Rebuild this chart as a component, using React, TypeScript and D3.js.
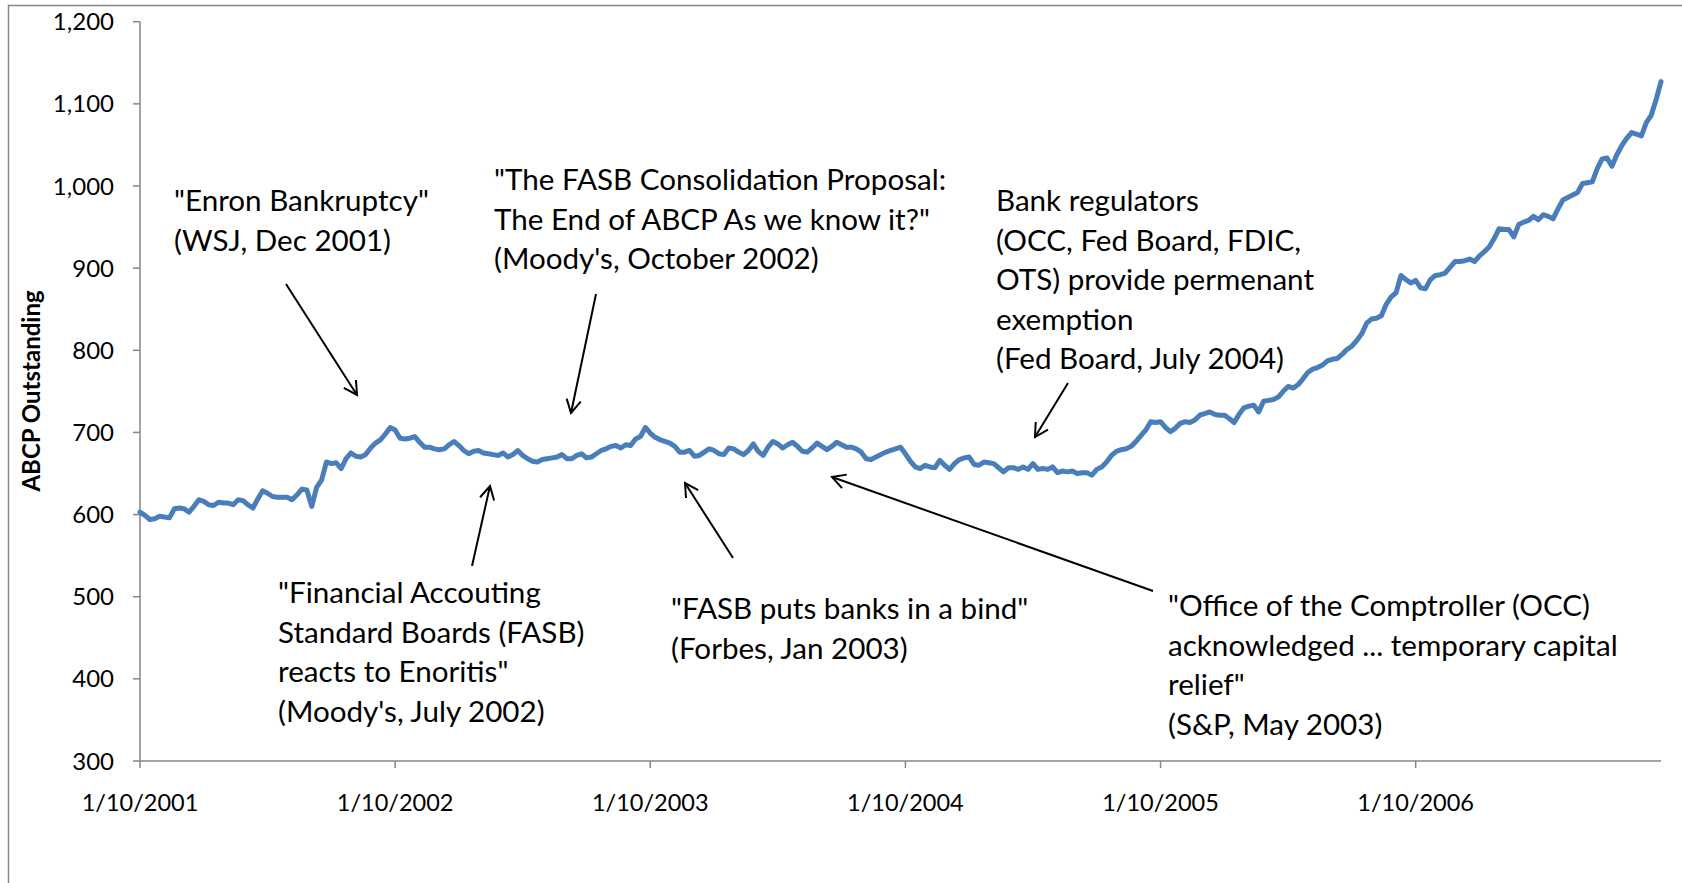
import React, { useEffect } from 'react';
import * as d3 from 'd3';

// weekly ABCP outstanding ($bn), starting 1/10/2001
const abcp = [
  603, 599, 594, 595, 598, 597, 596, 607, 608, 607,
  603, 610, 618, 616, 612, 611, 615, 614, 614, 612,
  618, 617, 612, 608, 619, 629, 626, 622, 621, 621,
  621, 618, 624, 631, 630, 610, 633, 642, 664, 662,
  663, 656, 668, 675, 671, 670, 673, 681, 687, 691,
  698, 706, 703, 693, 692, 693, 695, 688, 682, 682,
  680, 679, 680, 685, 689, 684, 678, 674, 677, 678,
  675, 674, 673, 672, 675, 670, 673, 678, 672, 668,
  665, 664, 667, 668, 669, 670, 673, 668, 668, 672,
  674, 669, 670, 674, 678, 680, 683, 684, 681, 685,
  684, 692, 695, 706, 699, 694, 691, 689, 687, 683,
  676, 676, 678, 671, 672, 676, 680, 678, 674, 673,
  681, 680, 676, 673, 678, 686, 677, 672, 682, 689,
  686, 681, 685, 688, 683, 677, 676, 681, 687, 683,
  679, 683, 688, 685, 682, 682, 680, 676, 668, 667,
  670, 673, 676, 678, 680, 682, 674, 665, 658, 656,
  660, 658, 657, 666, 660, 655, 662, 667, 669, 670,
  661, 660, 664, 663, 662, 657, 652, 657, 657, 655,
  658, 655, 662, 655, 656, 655, 658, 651, 653, 652,
  653, 650, 651, 651, 648, 655, 658, 664, 672, 677,
  679, 680, 683, 689, 696, 703, 713, 712, 713, 706,
  701, 705, 711, 713, 712, 715, 721, 723, 725, 722,
  721, 721, 717, 712, 722, 730, 732, 733, 725, 738,
  739, 740, 743, 750, 756, 754, 758, 765, 773, 777,
  779, 782, 787, 789, 790, 795, 801, 805, 812, 820,
  833, 838, 839, 842, 856, 865, 870, 891, 886, 882,
  885, 876, 875, 886, 891, 892, 894, 901, 908, 908,
  909, 911, 908, 915, 920, 926, 936, 948, 947, 947,
  938, 953, 956, 958, 963, 959, 965, 963, 960, 972,
  983, 986, 989, 992, 1003, 1004, 1005, 1021, 1033, 1034,
  1024, 1038, 1049, 1058, 1065, 1063, 1061, 1077, 1086, 1105, 1127,
];

const xTickLabels = ['1/10/2001', '1/10/2002', '1/10/2003', '1/10/2004', '1/10/2005', '1/10/2006'];
const weeksPerTick = 52;
const yTicks = [300, 400, 500, 600, 700, 800, 900, 1000, 1100, 1200];

// callouts: text lines, first baseline, arrow tail -> head (pixels)
const notes = [
  { lines: ['"Enron Bankruptcy"', '(WSJ, Dec 2001)'], x: 174, y: 211, arrow: [286, 284, 357, 395] },
  {
    lines: ['"The FASB Consolidation Proposal:', 'The End of ABCP As we know it?"', "(Moody's, October 2002)"],
    x: 494, y: 190, arrow: [596, 294, 571, 413],
  },
  {
    lines: ['Bank regulators', '(OCC, Fed Board, FDIC,', 'OTS) provide permenant', 'exemption', '(Fed Board, July 2004)'],
    x: 996, y: 211, arrow: [1068, 383, 1035, 437],
  },
  {
    lines: ['"Financial Accouting', 'Standard Boards (FASB)', 'reacts to Enoritis"', "(Moody's, July 2002)"],
    x: 278, y: 603, arrow: [472, 566, 490, 486],
  },
  { lines: ['"FASB puts banks in a bind"', '(Forbes, Jan 2003)'], x: 671, y: 619, arrow: [733, 558, 685, 483] },
  {
    lines: ['"Office of the Comptroller (OCC)', 'acknowledged ... temporary capital', 'relief"', '(S&P, May 2003)'],
    x: 1168, y: 616, arrow: [1153, 591, 832, 477],
  },
];

const W = 1682;
const H = 883;
const left = 140;
const right = 1661;
const top = 21.7;
const bottom = 761;
const font = 'Lato, "Open Sans", sans-serif';
const grey = '#868686';

function head(x1: number, y1: number, x2: number, y2: number) {
  const a = Math.atan2(y2 - y1, x2 - x1);
  const len = 15;
  const sp = 0.5;
  const p1 = [x2 - len * Math.cos(a - sp), y2 - len * Math.sin(a - sp)];
  const p2 = [x2 - len * Math.cos(a + sp), y2 - len * Math.sin(a + sp)];
  return `M${p1[0]},${p1[1]}L${x2},${y2}L${p2[0]},${p2[1]}`;
}

export default function App() {
  useEffect(() => {
    document.body.style.margin = '0';
    document.body.style.overflow = 'hidden';
  }, []);

  const x = d3.scaleLinear().domain([0, abcp.length - 1]).range([left, right]);
  const y = d3.scaleLinear().domain([300, 1200]).range([bottom, top]);

  const path = d3
    .line<number>()
    .x((d, i) => x(i))
    .y(d => y(d))(abcp);

  const fmt = d3.format(',');

  return (
    <svg width={W} height={H} style={{ display: 'block' }} fontFamily={font}>
      <rect x={0} y={0} width={W} height={H} fill="#fff" />
      {/* outer chart frame */}
      <path d={`M8.5,${H + 5}V5.5H${W + 5}`} fill="none" stroke={grey} strokeWidth={1.5} />

      {/* y axis */}
      <line x1={left} x2={left} y1={top} y2={bottom} stroke={grey} strokeWidth={1.5} />
      {yTicks.map(t => (
        <g key={t}>
          <line x1={left - 7} x2={left} y1={y(t)} y2={y(t)} stroke={grey} strokeWidth={1.5} />
          <text x={114} y={y(t)} dy="0.36em" textAnchor="end" fontSize={24} fill="#000">
            {fmt(t)}
          </text>
        </g>
      ))}

      {/* x axis */}
      <line x1={left} x2={right} y1={bottom} y2={bottom} stroke={grey} strokeWidth={1.5} />
      {xTickLabels.map((lab, k) => (
        <g key={lab}>
          <line x1={x(k * weeksPerTick)} x2={x(k * weeksPerTick)} y1={bottom} y2={bottom + 7} stroke={grey} strokeWidth={1.5} />
          <text x={x(k * weeksPerTick)} y={811} textAnchor="middle" fontSize={23.5} fill="#000">
            {lab}
          </text>
        </g>
      ))}

      <text
        transform="translate(40,391) rotate(-90)"
        textAnchor="middle"
        fontSize={24}
        fontWeight="bold"
        fill="#000"
      >
        ABCP Outstanding
      </text>

      <path d={path || ''} fill="none" stroke="#4a7ebb" strokeWidth={5} strokeLinejoin="round" strokeLinecap="round" />

      {notes.map((n, k) => (
        <g key={k}>
          {n.lines.map((l, j) => (
            <text key={j} x={n.x} y={n.y + j * 39.5} fontSize={29.6} fill="#000">
              {l}
            </text>
          ))}
          <line x1={n.arrow[0]} y1={n.arrow[1]} x2={n.arrow[2]} y2={n.arrow[3]} stroke="#000" strokeWidth={2} />
          <path d={head(n.arrow[0], n.arrow[1], n.arrow[2], n.arrow[3])} fill="none" stroke="#000" strokeWidth={2} />
        </g>
      ))}
    </svg>
  );
}
